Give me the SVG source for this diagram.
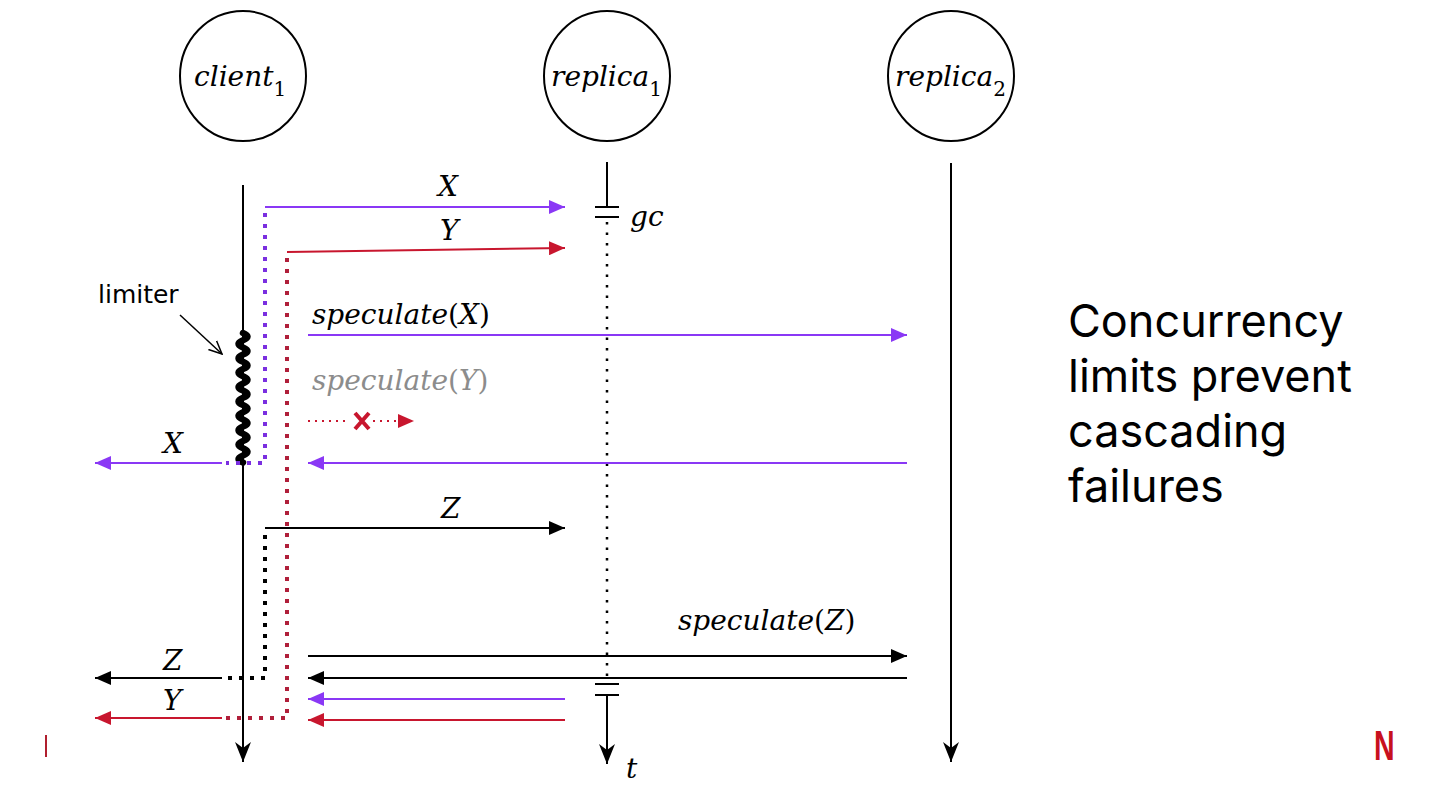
<svg xmlns="http://www.w3.org/2000/svg" width="1440" height="810" viewBox="0 0 1440 810">
<style>
.bg{fill:#fff}
.node{fill:none;stroke:#000;stroke-width:2}
.lbl{font-family:"DejaVu Serif","Liberation Serif",serif;font-style:italic;font-size:28px;fill:#000}
.sub{font-style:normal;font-size:20px}
.up{font-style:normal}
.life{stroke:#000;stroke-width:2;fill:none}
.pur{stroke:#8a38f5;stroke-width:2;fill:none}
.red{stroke:#c8162e;stroke-width:2;fill:none}
.blk{stroke:#000;stroke-width:2;fill:none}
.dotp{stroke:#7a2fe0;stroke-width:4;stroke-dasharray:4 7;fill:none}
.dotr{stroke:#b01f3a;stroke-width:4;stroke-dasharray:4 7;fill:none}
.dotk{stroke:#000;stroke-width:4;stroke-dasharray:4 7;fill:none}
.sans{font-family:Inter,"Liberation Sans",sans-serif;fill:#000}
</style>
<defs>
<marker id="ap" viewBox="0 0 16 14" refX="16" refY="7" markerWidth="16" markerHeight="14" markerUnits="userSpaceOnUse" orient="auto"><path d="M0,0 L16,7 L0,14 Z" fill="#8a38f5"/></marker>
<marker id="ar" viewBox="0 0 16 14" refX="16" refY="7" markerWidth="16" markerHeight="14" markerUnits="userSpaceOnUse" orient="auto"><path d="M0,0 L16,7 L0,14 Z" fill="#c8162e"/></marker>
<marker id="ak" viewBox="0 0 16 14" refX="16" refY="7" markerWidth="16" markerHeight="14" markerUnits="userSpaceOnUse" orient="auto"><path d="M0,0 L16,7 L0,14 Z" fill="#000"/></marker>
<marker id="av" viewBox="0 0 16 20" refX="8" refY="20" markerWidth="16" markerHeight="20" markerUnits="userSpaceOnUse" orient="0"><path d="M0,0 L8,6 L16,0 L8,20 Z" fill="#000"/></marker>
<marker id="aopen" viewBox="0 0 14 14" refX="13" refY="7" markerWidth="14" markerHeight="14" markerUnits="userSpaceOnUse" orient="auto"><path d="M0,1 L13,7 L0,13" fill="none" stroke="#000" stroke-width="1.5"/></marker>
</defs>
<rect class="bg" x="0" y="0" width="1440" height="810"/>

<g id="client1">
<ellipse class="node" cx="243" cy="76" rx="63" ry="65"/>
<text class="lbl" x="194" y="86" font-size="30">client<tspan class="sub" dy="10">1</tspan></text>
</g>
<g id="replica1">
<ellipse class="node" cx="607" cy="76" rx="63" ry="65"/>
<text class="lbl" x="551" y="86" font-size="30">replica<tspan class="sub" dy="10">1</tspan></text>
</g>
<g id="replica2">
<ellipse class="node" cx="951" cy="76" rx="63" ry="65"/>
<text class="lbl" x="895" y="86" font-size="30">replica<tspan class="sub" dy="10">2</tspan></text>
</g>

<g id="lifelines">
<line class="life" x1="243" y1="185" x2="243" y2="762" marker-end="url(#av)"/>
<line class="life" x1="607" y1="162" x2="607" y2="206"/>
<line class="life" x1="595" y1="207" x2="619" y2="207"/>
<line class="life" x1="595" y1="217" x2="619" y2="217"/>
<line x1="607" y1="222" x2="607" y2="680" stroke="#000" stroke-width="2.5" stroke-dasharray="2.5 8"/>
<line class="life" x1="595" y1="684" x2="619" y2="684"/>
<line class="life" x1="595" y1="695" x2="619" y2="695"/>
<line class="life" x1="607" y1="695" x2="607" y2="764" marker-end="url(#av)"/>
<line class="life" x1="951" y1="163" x2="951" y2="762" marker-end="url(#av)"/>
<text class="lbl" x="630" y="226" font-size="30">gc</text>
<text class="lbl" x="626" y="778" font-size="30">t</text>
</g>

<g id="limiter">
<path d="M243,333 q9,3.6 0,7.2 t0,7.2 t0,7.2 t0,7.2 t0,7.2 t0,7.2 t0,7.2 t0,7.2 t0,7.2 t0,7.2 t0,7.2 t0,7.2 t0,7.2 t0,7.2 t0,7.2 t0,7.2 t0,7.2 t0,7.2" fill="none" stroke="#000" stroke-width="6.5" stroke-linecap="round"/>
<text x="98" y="303" font-size="25" font-family="DejaVu Sans, sans-serif" fill="#000">limiter</text>
<line x1="180" y1="315" x2="222" y2="354" stroke="#000" stroke-width="1.5" marker-end="url(#aopen)"/>
</g>

<g id="connectors">
<line class="pur" x1="265" y1="207" x2="565" y2="207" marker-end="url(#ap)"/>
<text class="lbl" x="438" y="196">X</text>
<polyline class="dotp" points="265,213 265,463 226,463"/>
<line class="pur" x1="222" y1="463" x2="95" y2="463" marker-end="url(#ap)"/>
<text class="lbl" x="163" y="453">X</text>

<line class="red" x1="287" y1="252" x2="565" y2="248" marker-end="url(#ar)"/>
<text class="lbl" x="440" y="240">Y</text>
<polyline class="dotr" points="287,258 287,718 226,718"/>
<line class="red" x1="222" y1="718" x2="95" y2="718" marker-end="url(#ar)"/>
<text class="lbl" x="163" y="710">Y</text>

<line class="pur" x1="308" y1="335" x2="907" y2="335" marker-end="url(#ap)"/>
<text class="lbl" x="312" y="324">speculate<tspan class="up">(</tspan>X<tspan class="up">)</tspan></text>

<text class="lbl" x="312" y="390" style="fill:#8c8c8c">speculate<tspan class="up">(</tspan>Y<tspan class="up">)</tspan></text>
<line x1="308" y1="421" x2="350" y2="421" stroke="#c8162e" stroke-width="1.8" stroke-dasharray="2 5"/>
<line x1="373" y1="421" x2="396" y2="421" stroke="#c8162e" stroke-width="1.8" stroke-dasharray="2 5"/>
<path d="M398,414 L414,421 L398,428 Z" fill="#c8162e"/>
<path d="M355,413 L369,429 M369,413 L355,429" stroke="#c8162e" stroke-width="4"/>

<line class="pur" x1="907" y1="463" x2="308" y2="463" marker-end="url(#ap)"/>

<line class="blk" x1="265" y1="528" x2="565" y2="528" marker-end="url(#ak)"/>
<text class="lbl" x="441" y="518">Z</text>
<polyline class="dotk" points="265,535 265,678 226,678"/>
<line class="blk" x1="222" y1="678" x2="95" y2="678" marker-end="url(#ak)"/>
<text class="lbl" x="163" y="670">Z</text>

<line class="blk" x1="308" y1="656" x2="907" y2="656" marker-end="url(#ak)"/>
<text class="lbl" x="678" y="630">speculate<tspan class="up">(</tspan>Z<tspan class="up">)</tspan></text>
<line class="blk" x1="907" y1="678" x2="308" y2="678" marker-end="url(#ak)"/>
<line class="pur" x1="565" y1="699" x2="308" y2="699" marker-end="url(#ap)"/>
<line class="red" x1="565" y1="720" x2="308" y2="720" marker-end="url(#ar)"/>
</g>

<g id="caption">
<text class="sans" font-size="45"><tspan x="1068" y="337">Concurrency</tspan><tspan x="1068" y="392">limits prevent</tspan><tspan x="1068" y="447">cascading</tspan><tspan x="1068" y="502">failures</tspan></text>
</g>

<g id="footer">
<rect x="45" y="735" width="2" height="22" fill="#b01f2e"/>
<text x="1374" y="760" font-family="Liberation Sans, sans-serif" font-weight="bold" font-size="42" fill="#c8101e" transform="translate(1374 0) scale(0.68 1) translate(-1374 0)">N</text>
</g>
</svg>
